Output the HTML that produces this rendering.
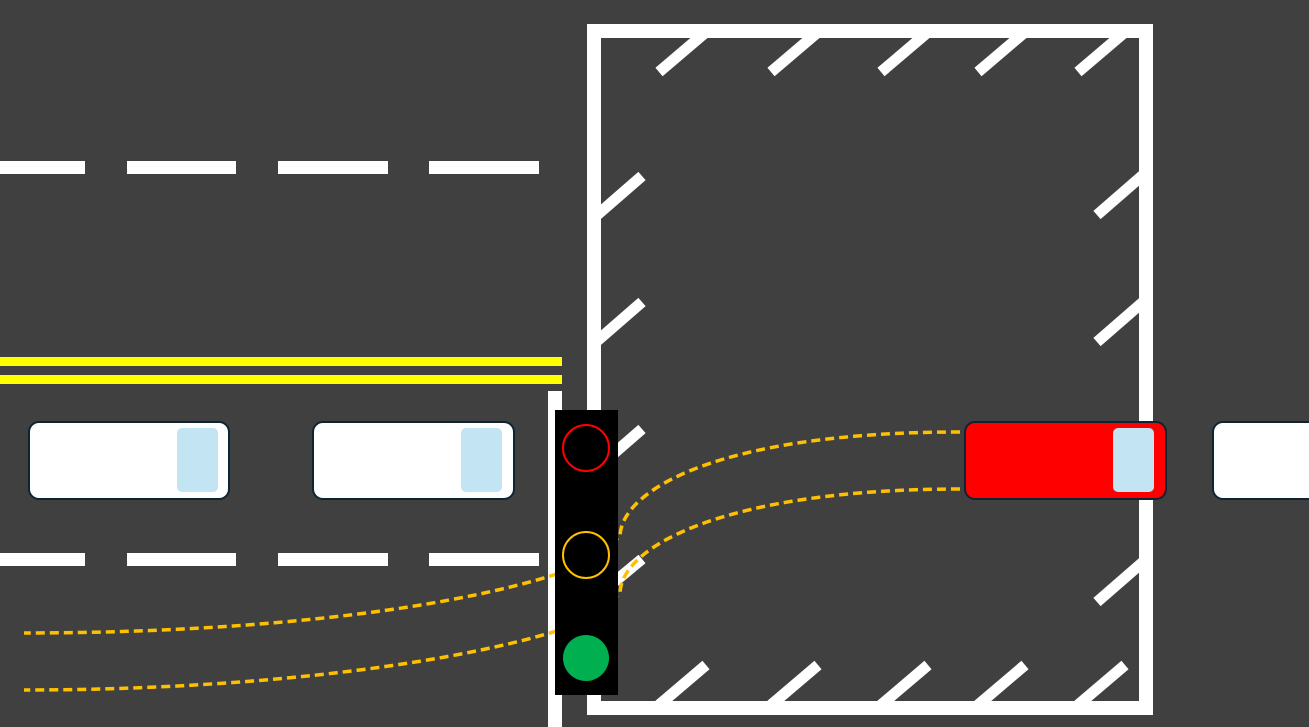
<!DOCTYPE html>
<html><head><meta charset="utf-8"><style>html,body{margin:0;padding:0;background:#404040;}svg{display:block}</style></head>
<body>
<svg width="1309" height="727" viewBox="0 0 1309 727" xmlns="http://www.w3.org/2000/svg">
<rect width="1309" height="727" fill="#404040"/>
<g fill="#fff">
<rect x="0" y="161" width="85" height="13"/><rect x="127" y="161" width="109" height="13"/><rect x="278" y="161" width="110" height="13"/><rect x="429" y="161" width="110" height="13"/>
<rect x="0" y="553" width="85" height="13"/><rect x="127" y="553" width="109" height="13"/><rect x="278" y="553" width="110" height="13"/><rect x="429" y="553" width="110" height="13"/>
<rect x="548" y="391" width="14" height="336"/>
</g>
<rect x="0" y="357" width="562" height="9" fill="#ffff00"/>
<rect x="0" y="375" width="562" height="9" fill="#ffff00"/>
<g stroke="#fff" stroke-width="11" stroke-linecap="butt">
<line x1="659" y1="72" x2="706" y2="32"/><line x1="771" y1="72" x2="818" y2="32"/><line x1="881" y1="72" x2="928" y2="32"/><line x1="978" y1="72" x2="1025" y2="32"/><line x1="1078" y1="72" x2="1125" y2="32"/>
<line x1="659" y1="705" x2="706" y2="665"/><line x1="771" y1="705" x2="818" y2="665"/><line x1="881" y1="705" x2="928" y2="665"/><line x1="978" y1="705" x2="1025" y2="665"/><line x1="1078" y1="705" x2="1125" y2="665"/>
<line x1="596" y1="216" x2="642" y2="176"/><line x1="596" y1="342" x2="642" y2="302"/><line x1="596" y1="469" x2="642" y2="429"/><line x1="596" y1="597" x2="642" y2="559"/>
<line x1="1097" y1="215" x2="1143" y2="175"/><line x1="1097" y1="342" x2="1143" y2="302"/><line x1="1097" y1="602" x2="1143" y2="562"/>
</g>
<rect x="594" y="31" width="552" height="677" fill="none" stroke="#fff" stroke-width="14"/>
<g fill="none" stroke="#ffc000" stroke-width="3.5" stroke-dasharray="9,5">
<path d="M960 432 C720 432 620 490 620 537 L560 573 C430 615 220 633 24 633"/>
<path d="M960 489 C730 489 620 545 620 594 L560 630 C430 670 220 690 24 690"/>
</g>
<g stroke="#0e2433" stroke-width="2">
<rect x="29" y="422" width="200" height="77" rx="10" fill="#fff"/>
<rect x="313" y="422" width="201" height="77" rx="10" fill="#fff"/>
<rect x="965" y="422" width="201" height="77" rx="10" fill="#ff0000"/>
<rect x="1213" y="422" width="120" height="77" rx="10" fill="#fff"/>
</g>
<g fill="#c3e4f3">
<rect x="177" y="428" width="41" height="64" rx="5"/>
<rect x="461" y="428" width="41" height="64" rx="5"/>
<rect x="1113" y="428" width="41" height="64" rx="5"/>
</g>
<rect x="555" y="410" width="63" height="285" fill="#000"/>
<circle cx="586" cy="448" r="23" fill="none" stroke="#ff0000" stroke-width="2"/>
<circle cx="586" cy="555" r="23" fill="none" stroke="#ffc000" stroke-width="2"/>
<circle cx="586" cy="658" r="23" fill="#00b050"/>
</svg>
</body></html>
